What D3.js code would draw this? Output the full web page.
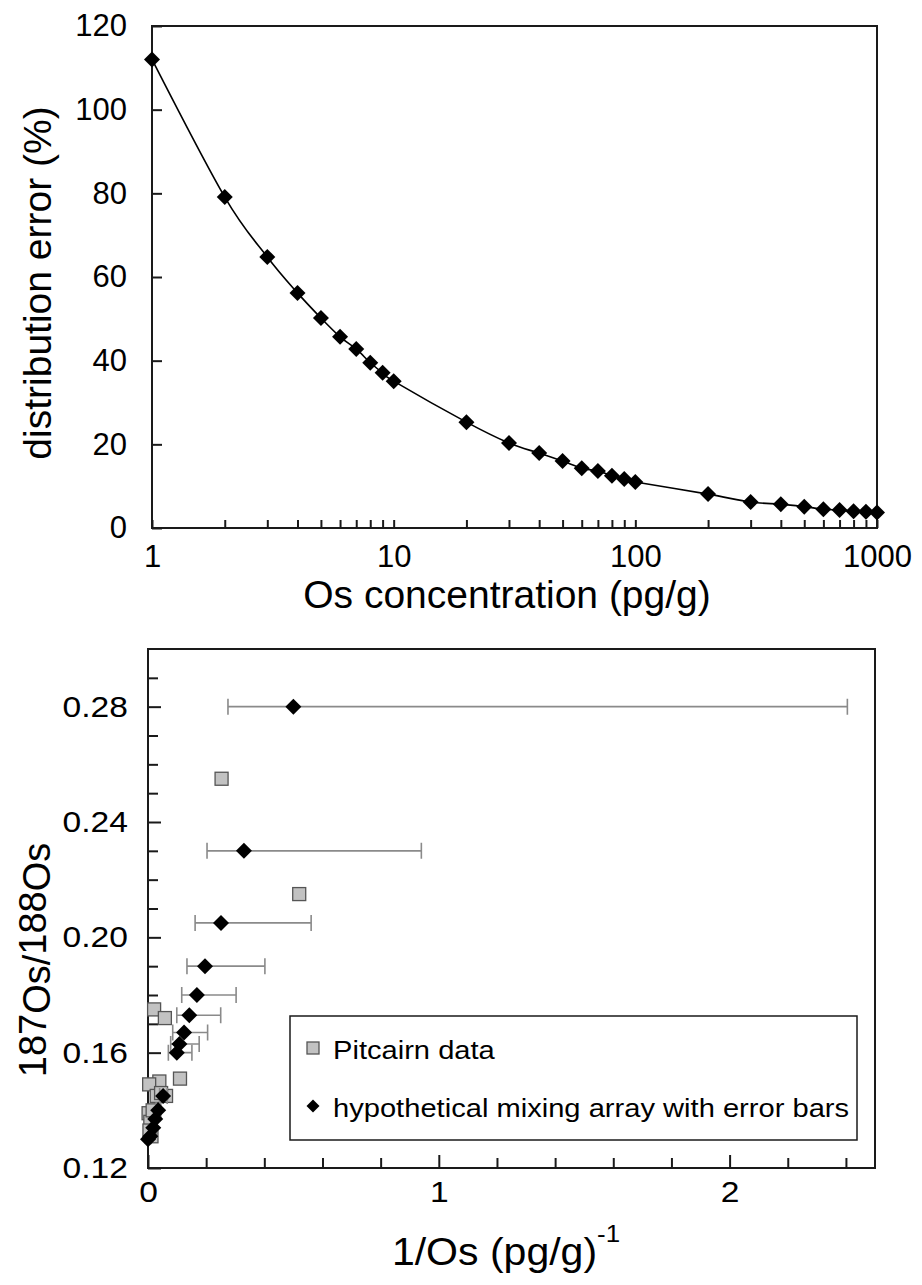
<!DOCTYPE html>
<html>
<head>
<meta charset="utf-8">
<script src="https://cdn.jsdelivr.net/npm/d3@7"></script>
<style>
  body { margin: 0; background: #fff; }
  svg text { font-family: "Liberation Sans", Arial, Helvetica, sans-serif; fill: #000; }
</style>
</head>
<body>
<svg id="fig" width="922" height="1285"></svg>
<script>
// ---------- Panel (a): distribution error vs Os concentration ----------
const concentrations = [1, 2, 3, 4, 5, 6, 7, 8, 9, 10, 20, 30, 40, 50, 60, 70, 80, 90,
                        100, 200, 300, 400, 500, 600, 700, 800, 900, 1000];
const distributionError = [112, 79.1, 64.8, 56.2, 50.2, 45.7, 42.8, 39.5, 37.1, 35.1,
                           25.3, 20.3, 17.9, 16.0, 14.3, 13.6, 12.5, 11.7, 11.0,
                           8.1, 6.2, 5.7, 5.1, 4.5, 4.3, 4.0, 3.9, 3.7];
const errorTicks = [0, 20, 40, 60, 80, 100, 120];
const concTicks = [1, 10, 100, 1000];

// ---------- Panel (b): 187Os/188Os vs 1/Os ----------
const mixInvOs   = [0.500, 0.330, 0.251, 0.196, 0.168, 0.142, 0.124, 0.108, 0.099, 0.052, 0.035, 0.025, 0.018, 0.008, 0.000];
const mixRatio   = [0.280, 0.230, 0.205, 0.190, 0.180, 0.173, 0.167, 0.163, 0.160, 0.145, 0.140, 0.137, 0.134, 0.131, 0.130];
const mixErrLow  = [0.275, 0.203, 0.162, 0.134, 0.116, 0.099, 0.085, 0.078, 0.070, 0.040, 0.028, 0.020, 0.015, 0.006, 0.000];
const mixErrHigh = [2.405, 0.940, 0.561, 0.402, 0.303, 0.250, 0.205, 0.176, 0.151, 0.066, 0.044, 0.031, 0.022, 0.010, 0.000];
const pitcairnInvOs = [0.253, 0.520, 0.021, 0.058, 0.110, 0.039, 0.004, 0.030, 0.062, 0.045, 0.002, 0.008, 0.012, 0.005, 0.016];
const pitcairnRatio = [0.255, 0.215, 0.175, 0.172, 0.151, 0.150, 0.149, 0.145, 0.145, 0.146, 0.139, 0.136, 0.131, 0.133, 0.140];
const ratioTicks = [0.12, 0.16, 0.20, 0.24, 0.28];
const invOsTicks = [0, 1, 2];

const svg = d3.select("#fig");
const INK = "#1a1a1a";

function diamond(r) { return `M0,${-r}L${r},0L0,${r}L${-r},0Z`; }

function styleAxis(g, size, stroke) {
  g.select(".domain").remove();
  g.selectAll("line").attr("stroke", INK).attr("stroke-width", stroke);
  g.selectAll("text").attr("font-size", size).attr("font-family", null).attr("fill", "#000");
}

// ================= Panel (a) =================
const A = { left: 152, right: 877, top: 26, bottom: 528 };
const xA = d3.scaleLog().domain([1, 1000]).range([A.left, A.right]);
const yA = d3.scaleLinear().domain([0, 120]).range([A.bottom, A.top]);
const gA = svg.append("g");

// log ticks 1..9 within each decade
const logTicks = [];
[1, 10, 100].forEach(dec => d3.range(1, 10).forEach(m => logTicks.push(m * dec)));
logTicks.push(1000);

gA.append("g")
  .attr("transform", `translate(0,${A.bottom})`)
  .call(d3.axisBottom(xA).tickValues(logTicks).tickSize(-8).tickPadding(17)
        .tickFormat(d => concTicks.includes(d) ? String(d) : ""))
  .call(g => styleAxis(g, 31, 2));

gA.append("g")
  .attr("transform", `translate(${A.left},0)`)
  .call(d3.axisLeft(yA).tickValues(errorTicks).tickSize(-10).tickPadding(25))
  .call(g => styleAxis(g, 31, 2));

gA.append("rect")
  .attr("x", A.left).attr("y", A.top)
  .attr("width", A.right - A.left).attr("height", A.bottom - A.top)
  .attr("fill", "none").attr("stroke", INK).attr("stroke-width", 2);

// smoothed connecting line (uniform Catmull-Rom)
const curveData = concentrations.map((c, i) => ({ c, e: distributionError[i] }));
gA.append("path")
  .datum(curveData)
  .attr("fill", "none").attr("stroke", "#000").attr("stroke-width", 1.6)
  .attr("d", d3.line().x(d => xA(d.c)).y(d => yA(d.e)).curve(d3.curveCardinal.tension(0)));

gA.append("g").selectAll("path")
  .data(curveData).join("path")
  .attr("transform", d => `translate(${xA(d.c)},${yA(d.e)})`)
  .attr("d", diamond(8)).attr("fill", "#000");

gA.append("text")
  .attr("transform", `translate(51,283) rotate(-90)`)
  .attr("text-anchor", "middle").attr("font-size", 39)
  .text("distribution error (%)");

gA.append("text")
  .attr("x", 507).attr("y", 608)
  .attr("text-anchor", "middle").attr("font-size", 39)
  .text("Os concentration (pg/g)");

// ================= Panel (b) =================
const B = { left: 148, right: 875, top: 649, bottom: 1168 };
const xB = d3.scaleLinear().domain([0, 2.5]).range([B.left, B.right]);
const yB = d3.scaleLinear().domain([0.12, 0.30]).range([B.bottom, B.top]);
const gB = svg.append("g");
const SX = 1.12; // horizontal text stretch of this panel

const ratioMinor = d3.range(13, 30).map(v => v / 100).filter(v => !ratioTicks.some(t => Math.abs(t - v) < 1e-9));
const invOsMinor = d3.range(1, 13).map(v => v / 5).filter(v => !invOsTicks.some(t => Math.abs(t - v) < 1e-9));

gB.append("g")
  .attr("transform", `translate(${B.left},0)`)
  .call(d3.axisLeft(yB).tickValues(ratioMinor).tickSize(-10).tickFormat(""))
  .call(g => styleAxis(g, 30, 2));
gB.append("g")
  .attr("transform", `translate(${B.left},0)`)
  .call(d3.axisLeft(yB).tickValues(ratioTicks).tickSize(-13).tickPadding(18).tickFormat(d3.format(".2f")))
  .call(g => styleAxis(g, 30, 2))
  .call(g => g.selectAll("text").attr("transform", `scale(${SX},1)`));

gB.append("g")
  .attr("transform", `translate(0,${B.bottom})`)
  .call(d3.axisBottom(xB).tickValues(invOsMinor).tickSize(-10).tickFormat(""))
  .call(g => styleAxis(g, 30, 2));
gB.append("g")
  .attr("transform", `translate(0,${B.bottom})`)
  .call(d3.axisBottom(xB).tickValues(invOsTicks).tickSize(-13).tickPadding(13).tickFormat(d3.format("d")))
  .call(g => styleAxis(g, 30, 2))
  .call(g => g.selectAll("text").attr("transform", `scale(${SX},1)`));

gB.append("rect")
  .attr("x", B.left).attr("y", B.top)
  .attr("width", B.right - B.left).attr("height", B.bottom - B.top)
  .attr("fill", "none").attr("stroke", INK).attr("stroke-width", 2);

// Pitcairn samples
const pitcairn = pitcairnInvOs.map((x, i) => ({ x, y: pitcairnRatio[i] }));
gB.append("g").selectAll("rect")
  .data(pitcairn).join("rect")
  .attr("x", d => xB(d.x) - 6.5).attr("y", d => yB(d.y) - 6.5)
  .attr("width", 13).attr("height", 13)
  .attr("fill", "#c2c2c2").attr("stroke", "#555").attr("stroke-width", 1.3);

// mixing array with horizontal error bars
const mixing = mixInvOs.map((x, i) => ({ x, y: mixRatio[i], lo: mixErrLow[i], hi: mixErrHigh[i] }));
const eb = gB.append("g").attr("stroke", "#8a8a8a").attr("stroke-width", 1.6).attr("fill", "none");
eb.selectAll("path")
  .data(mixing.filter(d => d.hi > d.lo)).join("path")
  .attr("d", d => {
    const y = yB(d.y), a = xB(d.lo), b = xB(d.hi), h = 8;
    return `M${a},${y}H${b}M${a},${y - h}V${y + h}M${b},${y - h}V${y + h}`;
  });
gB.append("g").selectAll("path")
  .data(mixing).join("path")
  .attr("transform", d => `translate(${xB(d.x)},${yB(d.y)})`)
  .attr("d", diamond(8)).attr("fill", "#000");

// legend
const L = { x: 290, y: 1016, w: 567, h: 124 };
const lg = gB.append("g");
lg.append("rect").attr("x", L.x).attr("y", L.y).attr("width", L.w).attr("height", L.h)
  .attr("fill", "#fff").attr("stroke", INK).attr("stroke-width", 1.5);
lg.append("rect").attr("x", 307).attr("y", 1042).attr("width", 12).attr("height", 12)
  .attr("fill", "#c2c2c2").attr("stroke", "#555").attr("stroke-width", 1.3);
lg.append("path").attr("transform", "translate(313,1106)").attr("d", diamond(6.5)).attr("fill", "#000");
lg.append("text").attr("transform", `translate(333,1059) scale(${SX},1)`).attr("font-size", 26).text("Pitcairn data");
lg.append("text").attr("transform", `translate(333,1117) scale(${SX},1)`).attr("font-size", 26).text("hypothetical mixing array with error bars");

// axis titles
const yt = gB.append("text")
  .attr("transform", `translate(50,960) rotate(-90)`)
  .attr("text-anchor", "middle").attr("font-size", 38);
yt.append("tspan").attr("dy", -4).text("187");
yt.append("tspan").attr("dy", 4).text("Os/");
yt.append("tspan").attr("dy", -4).text("188");
yt.append("tspan").attr("dy", 4).text("Os");

const xt = gB.append("text")
  .attr("transform", `translate(506,1265) scale(1.08,1)`)
  .attr("text-anchor", "middle").attr("font-size", 38);
xt.append("tspan").text("1/Os (pg/g)");
xt.append("tspan").attr("font-size", 24).attr("dy", -23).text("-1");
</script>
</body>
</html>
